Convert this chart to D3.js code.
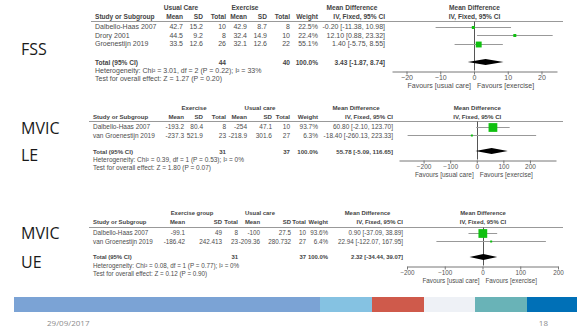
<!DOCTYPE html>
<html>
<head>
<meta charset="utf-8">
<title>forest plots</title>
<script src="https://d3js.org/d3.v7.min.js"></script>
<style>
  body { margin: 0; background: #fff; }
  svg text { font-family: "Liberation Sans", Arial, sans-serif; }
  .tbl { fill: #4d4d4d; }
  .hd { font-weight: bold; fill: #444; }
  .big { font-family: "Open Sans", sans-serif; font-size: 16px; fill: #1a1a1a; }
  .foot { font-family: "Open Sans", sans-serif; font-size: 8px; fill: #8c8c8c; }
</style>
</head>
<body>
<svg class="slide"></svg>
<script>
// FSS
var fssStudies = ["Dalbello-Haas 2007", "Drory 2001", "Groenestijn 2019"];
var fssGroups = ["Usual Care", "Exercise"];
var fssA = [[42.7, 15.2, 10], [44.5, 9.2, 8], [33.5, 12.6, 26]];
var fssB = [[42.9, 8.7, 8], [32.4, 14.9, 10], [32.1, 12.6, 22]];
var fssWeight = [22.5, 22.4, 55.1];
var fssMD = [[-0.20, -11.38, 10.98], [12.10, 0.88, 23.32], [1.40, -5.75, 8.55]];
var fssTotal = [3.43, -1.87, 8.74];
var fssN = [44, 40];
var fssTicks = [-20, -10, 0, 10, 20];
var fssHet = "Heterogeneity: Chi² = 3.01, df = 2 (P = 0.22); I² = 33%";
var fssZ = "Test for overall effect: Z = 1.27 (P = 0.20)";

// MVIC lower extremity
var leStudies = ["Dalbello-Haas 2007", "van Groenestijn 2019"];
var leGroups = ["Exercise", "Usual care"];
var leA = [[-193.2, 80.4, 8], [-237.3, 521.9, 23]];
var leB = [[-254, 47.1, 10], [-218.9, 301.6, 27]];
var leWeight = [93.7, 6.3];
var leMD = [[60.80, -2.10, 123.70], [-18.40, -260.13, 223.33]];
var leTotal = [55.78, -5.09, 116.65];
var leN = [31, 37];
var leTicks = [-200, -100, 0, 100, 200];
var leHet = "Heterogeneity: Chi² = 0.39, df = 1 (P = 0.53); I² = 0%";
var leZ = "Test for overall effect: Z = 1.80 (P = 0.07)";

// MVIC upper extremity
var ueStudies = ["Dalbello-Haas 2007", "van Groenestijn 2019"];
var ueGroups = ["Exercise group", "Usual care"];
var ueA = [[-99.1, 49, 8], [-186.42, 242.413, 23]];
var ueB = [[-100, 27.5, 10], [-209.36, 280.732, 27]];
var ueWeight = [93.6, 6.4];
var ueMD = [[0.90, -37.09, 38.89], [22.94, -122.07, 167.95]];
var ueTotal = [2.32, -34.44, 39.07];
var ueN = [31, 37];
var ueTicks = [-200, -100, 0, 100, 200];
var ueHet = "Heterogeneity: Chi² = 0.08, df = 1 (P = 0.77); I² = 0%";
var ueZ = "Test for overall effect: Z = 0.12 (P = 0.90)";

var colLabels = ["Mean", "SD", "Total", "Mean", "SD", "Total", "Weight"];
var stripColors = ["#7ba3d5", "#85c2e2", "#cf5a4b", "#eef1f6", "#69b3b7", "#0070b7"];

var svg = d3.select(".slide")
    .attr("width", 577)
    .attr("height", 328);

svg.append("rect").attr("width", 577).attr("height", 328).attr("fill", "#fff");

var boxSize = d3.scalePow().exponent(0.75).domain([0, 100]).range([0, 9.2]);

function drawPanel(p) {
    var g = svg.append("g");
    var L = p.line;

    function txt(x, y, s, anchor, bold) {
        return g.append("text")
            .attr("class", bold ? "tbl hd" : "tbl")
            .attr("x", x)
            .attr("y", y)
            .attr("font-size", (bold ? p.fs * 0.94 : p.fs) + "px")
            .attr("dominant-baseline", "central")
            .attr("text-anchor", anchor || "start")
            .text(s);
    }

    // big slide labels
    p.label.forEach(function(s, i) {
        g.append("text").attr("class", "big")
            .attr("x", 21).attr("y", p.labelY[i])
            .attr("dominant-baseline", "central")
            .text(s);
    });

    // group headers
    txt(p.grp[0], L - 14, p.groups[0], "middle", true);
    txt(p.grp[1], L - 14, p.groups[1], "middle", true);
    txt(p.mdHd, L - 14, "Mean Difference", "middle", true);

    // column headers
    txt(p.studyX, L - 5, "Study or Subgroup", "start", true);
    colLabels.forEach(function(c, i) {
        txt(p.cols[i], L - 5, c, "end", true);
    });
    txt(p.mdRight, L - 5, "IV, Fixed, 95% CI", "end", true);

    var x = d3.scaleLinear().domain(p.domain).range(p.range);
    var mid = x(0) + 0.5;
    txt(mid, L - 14, "Mean Difference", "middle", true);
    txt(mid, L - 5, "IV, Fixed, 95% CI", "middle", true);

    g.append("line")
        .attr("x1", p.studyX - 4).attr("x2", 563)
        .attr("y1", L + 0.5).attr("y2", L + 0.5)
        .attr("stroke", "#999").attr("stroke-width", 1);

    // study rows
    var rowY = function(i) { return L + 5.5 + i * 8.5; };
    p.studies.forEach(function(s, i) {
        var y = rowY(i);
        txt(p.studyX, y, s);
        var vals = p.a[i].concat(p.b[i]);
        vals.forEach(function(v, j) {
            txt(p.cols[j], y, String(v), "end");
        });
        txt(p.cols[6], y, p.weight[i].toFixed(1) + "%", "end");
        var md = p.md[i];
        txt(p.mdRight, y, md[0].toFixed(2) + " [" + md[1].toFixed(2) + ", " + md[2].toFixed(2) + "]", "end");
    });

    // totals
    var ty = p.total;
    txt(p.studyX, ty, "Total (95% CI)", "start", true);
    txt(p.cols[2], ty, String(p.n[0]), "end", true);
    txt(p.cols[5], ty, String(p.n[1]), "end", true);
    txt(p.cols[6], ty, "100.0%", "end", true);
    var t = p.tot;
    txt(p.mdRight, ty, t[0].toFixed(2) + " [" + t[1].toFixed(2) + ", " + t[2].toFixed(2) + "]", "end", true);
    txt(p.studyX, ty + 8.5, p.het);
    txt(p.studyX, ty + 16, p.z);

    // plot
    var axisY = ty + 8.5;
    g.append("line")
        .attr("x1", Math.round(x(0)) + 0.5).attr("x2", Math.round(x(0)) + 0.5)
        .attr("y1", L + 0.5).attr("y2", axisY)
        .attr("stroke", "#555").attr("stroke-width", 1);

    p.md.forEach(function(md, i) {
        var y = Math.round(rowY(i)) + 0.5;
        g.append("line")
            .attr("x1", x(md[1])).attr("x2", x(md[2]))
            .attr("y1", y).attr("y2", y)
            .attr("stroke", "#999").attr("stroke-width", 1);
        var s = Math.max(2, boxSize(p.weight[i]));
        g.append("rect")
            .attr("x", x(md[0]) - s / 2).attr("y", y - s / 2)
            .attr("width", s).attr("height", s)
            .attr("fill", "#10c010");
    });

    g.append("path")
        .attr("d", "M" + x(t[1]) + "," + ty + "L" + x(t[0]) + "," + (ty - 3) +
            "L" + x(t[2]) + "," + ty + "L" + x(t[0]) + "," + (ty + 3) + "Z")
        .attr("fill", "#000");

    var ax = g.append("g")
        .attr("transform", "translate(0," + (Math.round(axisY) + 0.5) + ")")
        .call(d3.axisBottom(x).tickValues(p.ticks).tickSize(3).tickSizeOuter(0).tickPadding(1));
    ax.select(".domain").attr("stroke", "#777");
    ax.selectAll(".tick line").attr("stroke", "#777");
    ax.selectAll(".tick text")
        .attr("font-size", p.fs + "px")
        .attr("font-family", "Liberation Sans, Arial, sans-serif")
        .attr("fill", "#555");

    txt(x(0) - 3, axisY + 15, "Favours [usual care]", "end");
    txt(x(0) + 3, axisY + 15, "Favours [exercise]", "start");
}

drawPanel({
    label: ["FSS"], labelY: [49], line: 21, total: 62, fs: 7,
    studyX: 95, cols: [183, 203, 226, 247, 267, 290, 318],
    mdRight: 385, mdHd: 352, grp: [181, 245],
    range: [392, 557], domain: [-24.3, 24.6], ticks: fssTicks,
    groups: fssGroups, studies: fssStudies, a: fssA, b: fssB,
    weight: fssWeight, md: fssMD, tot: fssTotal, n: fssN, het: fssHet, z: fssZ
});

drawPanel({
    label: ["MVIC", "LE"], labelY: [128, 155], line: 121, total: 151, fs: 6.5,
    studyX: 93, cols: [184, 203, 226, 247, 272, 290, 318],
    mdRight: 393, mdHd: 356, grp: [194, 260],
    range: [399, 556], domain: [-292.5, 298], ticks: leTicks,
    groups: leGroups, studies: leStudies, a: leA, b: leB,
    weight: leWeight, md: leMD, tot: leTotal, n: leN, het: leHet, z: leZ
});

drawPanel({
    label: ["MVIC", "UE"], labelY: [233, 262], line: 227, total: 257, fs: 6.3,
    studyX: 93, cols: [185, 222, 238, 260, 291, 306, 328],
    mdRight: 403, mdHd: 367.5, grp: [192, 260],
    range: [407, 558], domain: [-200, 200], ticks: ueTicks,
    groups: ueGroups, studies: ueStudies, a: ueA, b: ueB,
    weight: ueWeight, md: ueMD, tot: ueTotal, n: ueN, het: ueHet, z: ueZ
});

// footer strip
var stripX = [14, 320, 372, 424, 475, 527, 577];
stripColors.forEach(function(c, i) {
    svg.append("rect")
        .attr("x", stripX[i]).attr("y", 297)
        .attr("width", stripX[i + 1] - stripX[i]).attr("height", 15)
        .attr("fill", c);
});

svg.append("text").attr("class", "foot").attr("x", 47).attr("y", 326).text("29/09/2017");
svg.append("text").attr("class", "foot").attr("x", 548).attr("y", 326).attr("text-anchor", "end").text("18");
</script>
</body>
</html>
